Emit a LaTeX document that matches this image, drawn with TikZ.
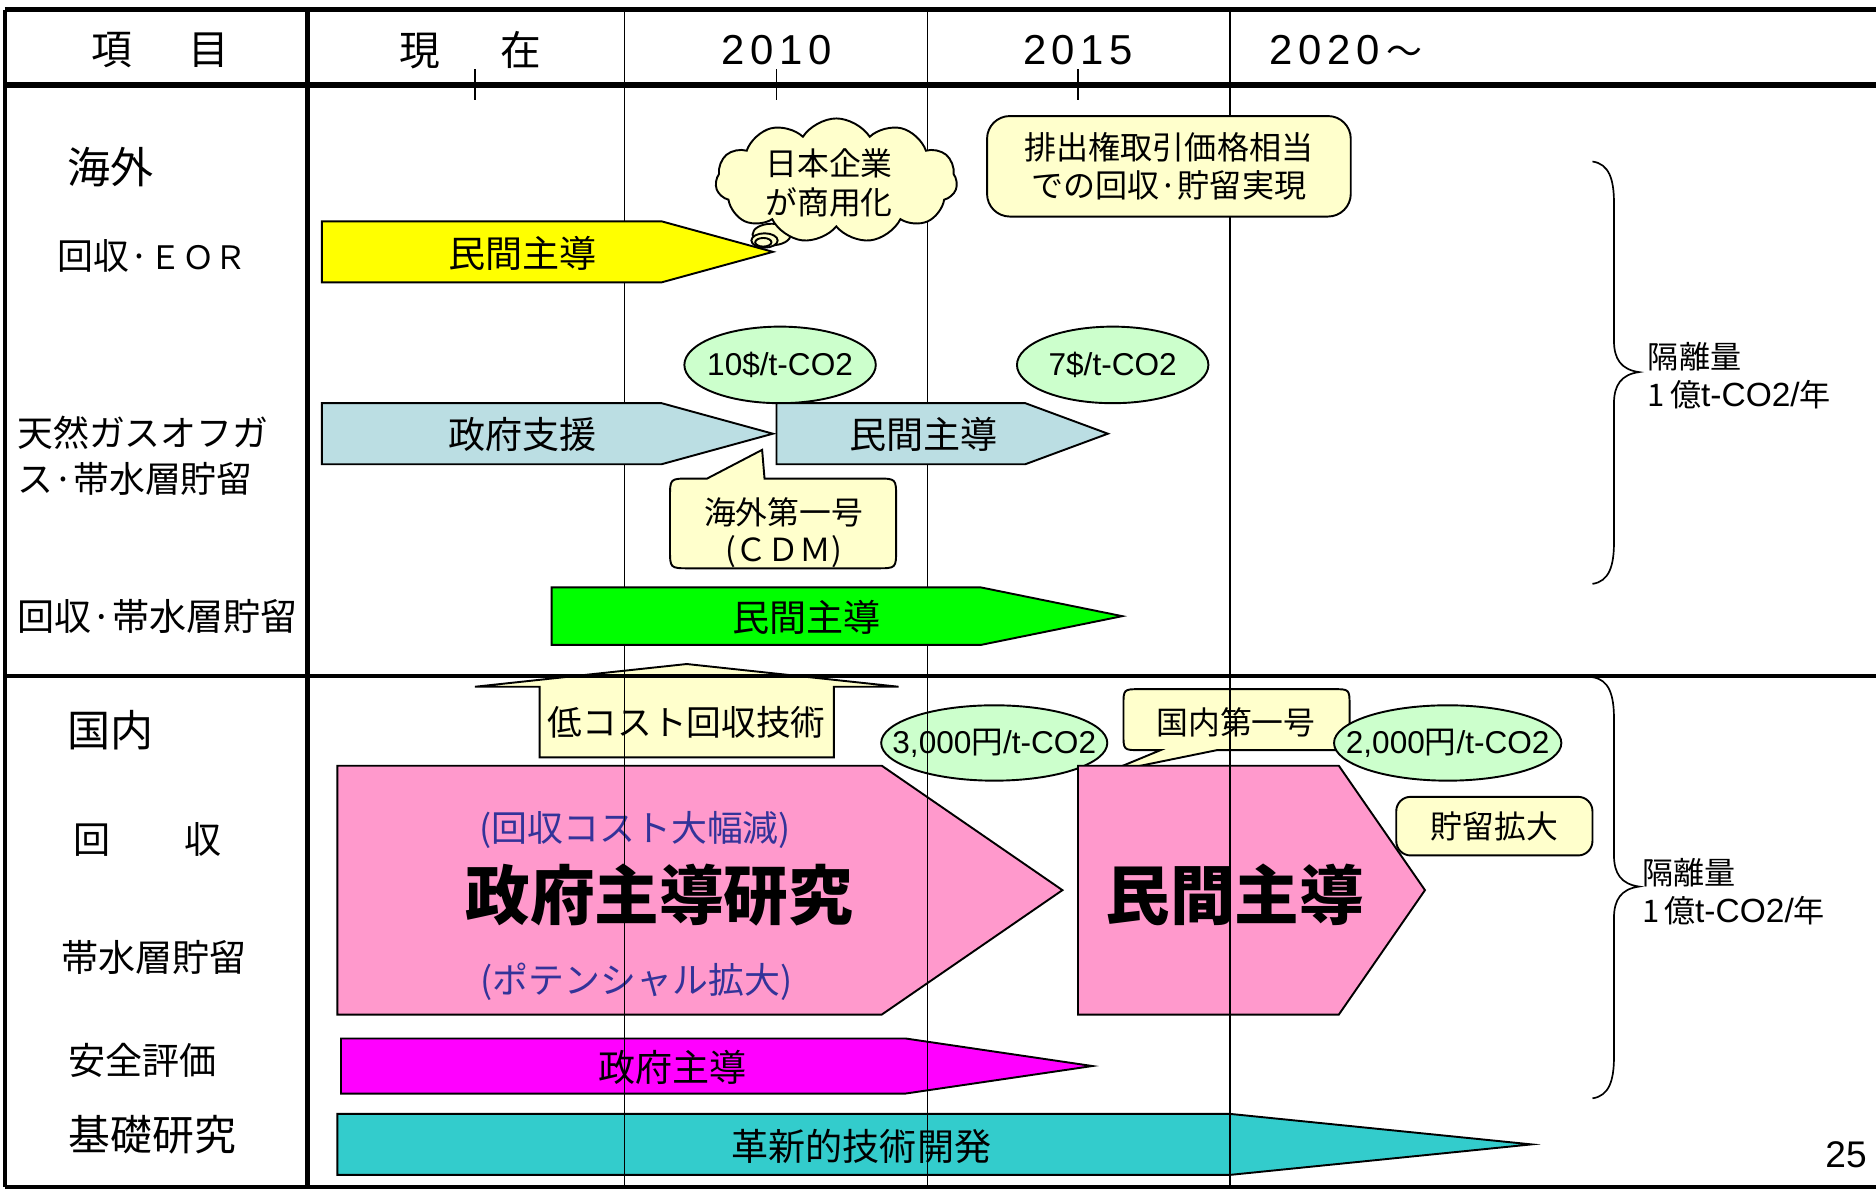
\documentclass[tikz,border=0pt]{standalone}
\usepackage{fontspec}
\setmainfont{Noto Sans CJK JP}
\newfontfamily\lsans{Liberation Sans}
\usetikzlibrary{shapes.geometric,shapes.symbols}
\newcommand\fsz[2]{\fontsize{#1}{#2}\selectfont}
\definecolor{cYellow}{HTML}{FFFF00}
\definecolor{cCall}{HTML}{FFFFCC}
\definecolor{cBlue}{HTML}{BBDEE3}
\definecolor{cMint}{HTML}{CCFFCC}
\definecolor{cGreen}{HTML}{00FF00}
\definecolor{cPink}{HTML}{FF99CC}
\definecolor{cMag}{HTML}{FF00FF}
\definecolor{cTeal}{HTML}{33CCCC}
\definecolor{cIndigo}{HTML}{333399}
% pentagon arrow: fill, x-left, x-shoulder, x-tip, y-top, y-bottom
\newcommand\arrowpoly[6]{\draw[shp,fill=#1] (#2,#5) -- (#3,#5) -- (#4,{(#5+#6)/2}) -- (#3,#6) -- (#2,#6) -- cycle;}
\begin{document}
\begin{tikzpicture}[x=0.5pt,y=-0.5pt,
  shp/.style={draw=black,line width=0.8pt,line join=miter},
  txt/.style={inner sep=0pt,align=center},
  lbl/.style={inner sep=0pt,anchor=west,align=left},
  gridline/.style={line width=0.6pt},
  heavy/.style={line width=2.2pt},
  oval/.style={ellipse,draw=black,line width=0.8pt,fill=cMint,inner sep=0pt,font=\lsans\fsz{13.2pt}{15pt}},
  callbox/.style={draw=black,line width=0.8pt,fill=cCall,inner sep=0pt,align=center},
  brace/.style={line width=0.7pt},
  arrtxt/.style={txt,font=\fsz{15.5pt}{18pt}},
  small/.style={txt,font=\fsz{13.3pt}{16pt}},
  side/.style={lbl,font=\fsz{15.5pt}{19pt}},
]
\fill[white] (0,0) rectangle (1568,994);
\useasboundingbox (0,0) rectangle (1568,994);

% thin year lines (under the upper shapes)
\foreach \gx in {522,775,1028} \draw[gridline] (\gx,8) -- (\gx,550);

% header texts
\node[txt,font=\fsz{17pt}{20pt}] (hItem) at (134,42) {項\hspace{23.5pt}目};
\node[txt,font=\fsz{17pt}{20pt}] (hNow) at (393,42) {現\hspace{25pt}在};
\node[txt,font=\lsans\fsz{17.5pt}{20pt}] (h2010) at (649,42) {2\hspace{2.3pt}0\hspace{2.3pt}1\hspace{2.3pt}0};
\node[txt,font=\lsans\fsz{17.5pt}{20pt}] (h2015) at (901,42) {2\hspace{2.3pt}0\hspace{2.3pt}1\hspace{2.3pt}5};
\node[lbl,font=\lsans\fsz{17.5pt}{20pt}] (h2020) at (1061,42) {2\hspace{2.3pt}0\hspace{2.3pt}2\hspace{2.3pt}0\hspace{3pt}{\rmfamily\fsz{15pt}{18pt}～}};

% left column labels
\node[lbl,font=\fsz{18pt}{20pt}] (lOver) at (56,140) {海外};
\node[lbl,font=\fsz{15pt}{18pt}] (lEOR) at (48,214) {回収·{\fsz{13.5pt}{18pt}ＥＯＲ}};
\node[lbl,font=\fsz{15pt}{19pt}] (lGas) at (14,381) {天然ガスオフガ\\ス·帯水層貯留};
\node[side] (lAq) at (14,515) {回収·帯水層貯留};
\node[lbl,font=\fsz{18pt}{20pt}] (lDom) at (56,610) {国内};
\node[side] (lRec) at (61,702) {回\hspace{31pt}収};
\node[side] (lStore) at (51,800) {帯水層貯留};
\node[side] (lSafe) at (57,886) {安全評価};
\node[lbl,font=\fsz{17.5pt}{20pt}] (lBasic) at (57,948) {基礎研究};

% ---------- upper section ----------
\arrowpoly{cYellow}{269}{553}{646}{185}{236}
\node[arrtxt] (aEOR) at (437,212) {民間主導};

% thought cloud
\draw[shp,fill=cCall] (645,196) ellipse [x radius=8pt,y radius=4.5pt];
\node[cloud,draw=black,line width=0.8pt,fill=cCall,cloud puffs=11,cloud puff arc=115,
      minimum width=101pt,minimum height=52pt,inner sep=0pt] (cloud) at (699,151) {};
\draw[shp,fill=cCall] (639,201) ellipse [x radius=5.5pt,y radius=3pt];
\draw[shp,fill=cCall] (638,202.5) ellipse [x radius=3.4pt,y radius=1.8pt];
\node[small,font=\fsz{13.3pt}{16.5pt}] (cloudtxt) at (693,153) {日本企業\\が商用化};

\node[callbox,rounded corners=9.5pt,minimum width=152pt,minimum height=42pt,font=\fsz{13.4pt}{16pt}]
   (emis) at (977,139) {排出権取引価格相当\\での回収·貯留実現};

\node[oval,minimum width=80pt,minimum height=32pt] (p10) at (652,305) {\makebox[0pt]{10\$/t-CO2}};
\node[oval,minimum width=80pt,minimum height=32pt] (p7) at (930,305) {\makebox[0pt]{7\$/t-CO2}};

\arrowpoly{cBlue}{269}{553}{646}{337}{388}
\node[arrtxt] (aGov) at (437,363) {政府支援};
\arrowpoly{cBlue}{649}{857}{926}{337}{388}
\node[arrtxt] (aPriv) at (772,363) {民間主導};

% callout overseas first
\draw[shp,fill=cCall] (560,416) .. controls (560,400) .. (576,400) -- (591,400) -- (637,376) -- (639,400)
   -- (733,400) .. controls (749,400) .. (749,416) -- (749,459) .. controls (749,475) .. (733,475)
   -- (576,475) .. controls (560,475) .. (560,459) -- cycle;
\node[small,font=\fsz{13.3pt}{15.5pt}] (cdm) at (655,445) {海外第一号\\(ＣＤＭ)};

\arrowpoly{cGreen}{461}{820}{938}{491}{539}
\node[arrtxt] (aAq) at (674,516) {民間主導};

% ---------- lower section ----------
\draw[shp,fill=cCall] (451,633) -- (451,574) -- (397,574) -- (574,555) -- (751,574) -- (697,574) -- (697,633) -- cycle;
\node[txt,font=\fsz{14.5pt}{17pt}] (lowcost) at (574,604) {低コスト回収技術};

% callout domestic first (pointer hidden under pink box)
\draw[shp,fill=cCall] (939,590) .. controls (939,576) .. (953,576) -- (1114,576) .. controls (1128,576) .. (1128,590)
   -- (1128,613) .. controls (1128,627) .. (1114,627) -- (1017,627) -- (924,646) -- (970,627)
   -- (953,627) .. controls (939,627) .. (939,613) -- cycle;
\node[small] (dom1) at (1033,604) {国内第一号};

\node[oval,minimum width=94.5pt,minimum height=31.5pt] (p3000) at (831,621) {\makebox[0pt]{3,000{\rmfamily 円}/t-CO2}};
\node[oval,minimum width=95pt,minimum height=31.5pt] (p2000) at (1210,621) {\makebox[0pt]{2,000{\rmfamily 円}/t-CO2}};

\arrowpoly{cPink}{282}{737}{888}{640}{848}
\node[txt,font=\fsz{15pt}{17pt},text=cIndigo] (cut) at (531,694) {(回収コスト大幅減)};
\node[txt,font=\bfseries\fsz{27pt}{30pt}] (govres) at (551,748) {政府主導研究};
\node[txt,font=\fsz{15pt}{17pt},text=cIndigo] (pot) at (532,821) {(ポテンシャル拡大)};

\arrowpoly{cPink}{901}{1119}{1191}{640}{848}
\node[txt,font=\bfseries\fsz{27pt}{30pt}] (privbig) at (1032,748) {民間主導};

\node[callbox,rounded corners=6pt,minimum width=82pt,minimum height=24.5pt,font=\fsz{13.3pt}{16pt}]
   (expand) at (1249,690.5) {貯留拡大};

\arrowpoly{cMag}{285}{757}{913}{868}{914}
\node[arrtxt] (aSafe) at (562,892) {政府主導};

\arrowpoly{cTeal}{282}{1028}{1280}{931}{982}
\node[arrtxt] (aBasic) at (720,958) {革新的技術開発};

% thin year lines over the lower shapes
\foreach \gx in {522,775,1028} \draw[gridline] (\gx,550) -- (\gx,992);

% braces and amounts
\draw[brace] (1331,135) .. controls (1345,137) and (1349,150) .. (1349,170) -- (1349,285)
   .. controls (1349,300) and (1355,309) .. (1370,311) .. controls (1355,313) and (1349,322) .. (1349,337)
   -- (1349,453) .. controls (1349,473) and (1345,486) .. (1331,488);
\node[lbl,font=\fsz{13pt}{16pt}] (amt1) at (1377,314) {隔離量\\1\hspace{2pt}億{\lsans\fsz{14pt}{16pt}t-CO2/}年};
\draw[brace] (1331,566) .. controls (1345,568) and (1349,581) .. (1349,601) -- (1349,715)
   .. controls (1349,730) and (1355,739) .. (1370,741) .. controls (1355,743) and (1349,752) .. (1349,767)
   -- (1349,883) .. controls (1349,903) and (1345,916) .. (1331,918);
\node[lbl,font=\fsz{13pt}{16pt}] (amt2) at (1372,745) {隔離量\\1\hspace{2pt}億{\lsans\fsz{14pt}{16pt}t-CO2/}年};

\node[txt,font=\lsans\fsz{15.5pt}{18pt}] (page) at (1543,965) {25};

% table rules
\draw[heavy] (4,8) -- (1568,8);
\draw[heavy] (4,71) -- (1568,71);
\draw[line width=1.8pt] (4,565) -- (1568,565);
\draw[line width=1.8pt] (4,992) -- (1568,992);
\draw[line width=1.5pt] (4,8) -- (4,992);
\draw[line width=2pt] (257,8) -- (257,992);
\foreach \tx in {397,649,901} \draw[gridline] (\tx,58) -- (\tx,84);
\end{tikzpicture}
\end{document}
